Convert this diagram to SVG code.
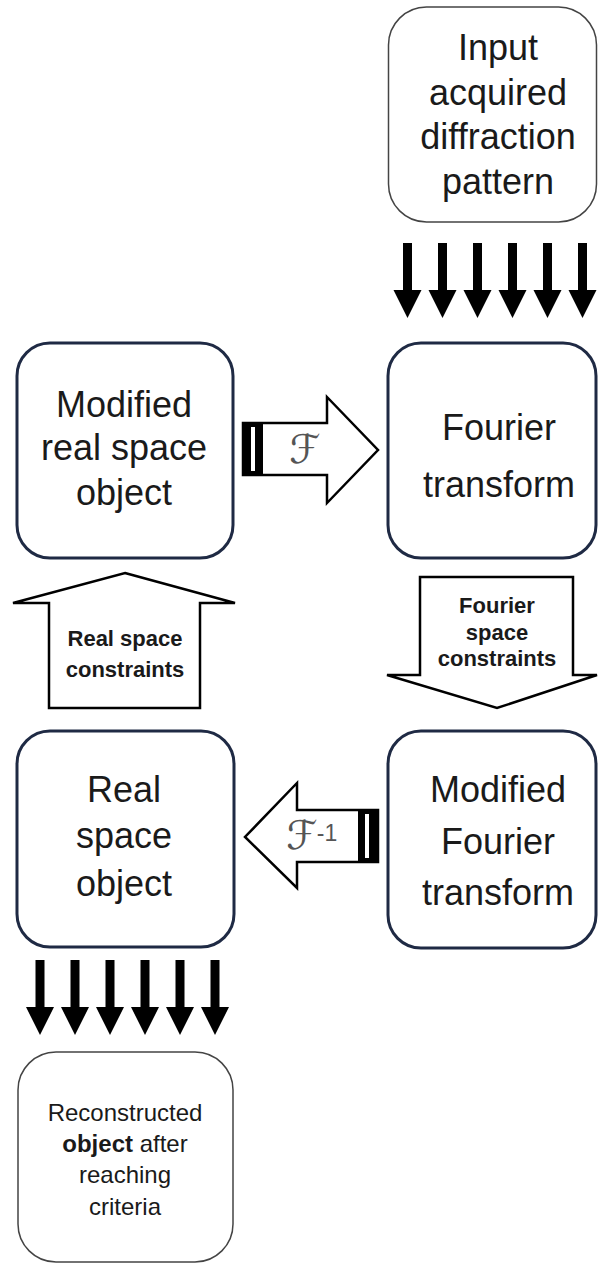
<svg xmlns="http://www.w3.org/2000/svg" width="598" height="1265" viewBox="0 0 598 1265">
<style>
.nav{fill:#fff;stroke:#1f2a44;stroke-width:3}
.thin{fill:#fff;stroke:#444;stroke-width:1.5}
.t{font-family:"Liberation Sans",Arial,sans-serif;font-size:36px;fill:#1a1a1a;text-anchor:middle}
.s{font-family:"Liberation Sans",Arial,sans-serif;font-size:24px;fill:#1a1a1a;text-anchor:middle}
.b{font-family:"Liberation Sans",Arial,sans-serif;font-size:22px;font-weight:bold;fill:#1a1a1a;text-anchor:middle}
.big{fill:#fff;stroke:#000;stroke-width:2.5;stroke-linejoin:miter}
.sym{font-family:"DejaVu Serif","DejaVu Sans",serif;font-size:40px;fill:#555;text-anchor:middle}
</style>
<defs>
<path id="da" d="M-4.5,0 H4.5 V47 H14 L0,75 L-14,47 H-4.5 Z" fill="#000"/>
</defs>
<rect width="598" height="1265" fill="#fff"/>
<g id="connectors">
<g id="arrows-top">
<use href="#da" x="407.5" y="243"/>
<use href="#da" x="442.5" y="243"/>
<use href="#da" x="477.5" y="243"/>
<use href="#da" x="512.5" y="243"/>
<use href="#da" x="547.5" y="243"/>
<use href="#da" x="582.5" y="243"/>
</g>
<g id="arrow-F">
<polygon class="big" points="243,423 327,423 327,397 378,450 327,503 327,475 243,475"/>
<rect x="243" y="423" width="20" height="52" fill="#000"/>
<rect x="251" y="427" width="4" height="44" fill="#fff"/>
<text class="sym" x="305" y="463">ℱ</text>
</g>
<g id="arrow-fourier-constraints">
<polygon class="big" points="420,577 573,577 573,675 597,675 497,708 387,675 420,675"/>
<text class="b" x="497" y="613">Fourier</text>
<text class="b" x="497" y="640">space</text>
<text class="b" x="497" y="666">constraints</text>
</g>
<g id="arrow-real-constraints">
<polygon class="big" points="125,573 235,603 200,603 200,708 49,708 49,603 13,603"/>
<text class="b" x="125" y="646">Real space</text>
<text class="b" x="125" y="677">constraints</text>
</g>
<g id="arrow-Finv">
<polygon class="big" points="378,810 297,810 297,783 245,837 297,888 297,862 378,862"/>
<rect x="358" y="810" width="20" height="52" fill="#000"/>
<rect x="365" y="814" width="4" height="44" fill="#fff"/>
<text class="sym" x="302" y="849">ℱ</text>
<text x="327" y="841" font-family="Liberation Sans,Arial,sans-serif" font-size="23" fill="#555" text-anchor="middle">-1</text>
</g>
<g id="arrows-bottom">
<use href="#da" x="40" y="960"/>
<use href="#da" x="75" y="960"/>
<use href="#da" x="110" y="960"/>
<use href="#da" x="145" y="960"/>
<use href="#da" x="180" y="960"/>
<use href="#da" x="215" y="960"/>
</g>
</g>
<g id="input">
<rect class="thin" x="388.5" y="7" width="208" height="215" rx="38"/>
<text class="t" x="498" y="60">Input</text>
<text class="t" x="498" y="104.5">acquired</text>
<text class="t" x="498" y="149">diffraction</text>
<text class="t" x="498" y="193.5">pattern</text>
</g>
<g id="modified-real">
<rect class="nav" x="17" y="343" width="216" height="215" rx="33"/>
<text class="t" x="124" y="417">Modified</text>
<text class="t" x="124" y="460">real space</text>
<text class="t" x="124" y="505">object</text>
</g>
<g id="fourier">
<rect class="nav" x="388" y="343" width="208" height="215" rx="33"/>
<text class="t" x="499" y="440">Fourier</text>
<text class="t" x="499" y="497">transform</text>
</g>
<g id="real">
<rect class="nav" x="17" y="731" width="217" height="216" rx="33"/>
<text class="t" x="124" y="802">Real</text>
<text class="t" x="124" y="848">space</text>
<text class="t" x="124" y="896">object</text>
</g>
<g id="modified-fourier">
<rect class="nav" x="388" y="731" width="208" height="217" rx="33"/>
<text class="t" x="498" y="802">Modified</text>
<text class="t" x="498" y="854">Fourier</text>
<text class="t" x="498" y="905">transform</text>
</g>
<g id="reconstructed">
<rect class="thin" x="18" y="1052" width="215" height="210" rx="38"/>
<text class="s" x="125" y="1121">Reconstructed</text>
<text class="s" x="125" y="1152"><tspan font-weight="bold">object</tspan> after</text>
<text class="s" x="125" y="1183">reaching</text>
<text class="s" x="125" y="1215">criteria</text>
</g>
</svg>
